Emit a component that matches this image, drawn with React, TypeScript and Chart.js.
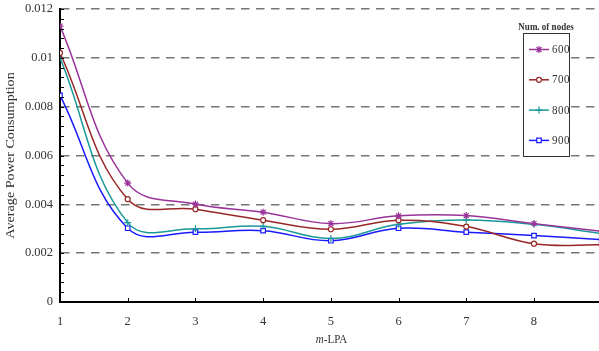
import React, { useEffect, useRef } from 'react';
import { Chart, registerables } from 'chart.js';

Chart.register(...registerables);

// ---- data ----
const xValues = [1, 2, 3, 4, 5, 6, 7, 8, 9];
const seriesLabels = ['600', '700', '800', '900'];
const s600 = [0.0113, 0.00487, 0.00401, 0.00368, 0.00321, 0.00353, 0.00354, 0.00321, 0.0029];
const s700 = [0.0102, 0.00421, 0.0038, 0.00335, 0.00298, 0.00335, 0.00309, 0.00239, 0.00234];
const s800 = [0.01, 0.00325, 0.003, 0.0031, 0.0026, 0.00318, 0.00336, 0.00318, 0.0028];
const s900 = [0.00846, 0.00302, 0.00286, 0.00292, 0.00251, 0.00302, 0.00286, 0.00272, 0.00255];
const xTicks = [1, 2, 3, 4, 5, 6, 7, 8];
const yTicks = [0, 0.002, 0.004, 0.006, 0.008, 0.01, 0.012];
const yTickLabels = ['0', '0.002', '0.004', '0.006', '0.008', '0.01', '0.012'];
const yMinorTicks = [0, 0.0004, 0.0008, 0.0012, 0.0016, 0.002, 0.0024, 0.0028, 0.0032, 0.0036, 0.004, 0.0044, 0.0048, 0.0052, 0.0056, 0.006, 0.0064, 0.0068, 0.0072, 0.0076, 0.008, 0.0084, 0.0088, 0.0092, 0.0096, 0.01, 0.0104, 0.0108, 0.0112, 0.0116, 0.012];
const legendTitle = 'Num. of nodes';
const yTitle = 'Average Power Consumption';
const xTitleItalic = 'm';
const xTitleRest = '-LPA';

const FONT = '"Liberation Serif", "Times New Roman", serif';

const seriesStyles = [
  { color: '#993399', point: 'star', radius: 3.5, fill: '#993399' },
  { color: '#992626', point: 'circle', radius: 2.5, fill: '#ffffff' },
  { color: '#1a9999', point: 'cross', radius: 3.5, fill: '#1a9999' },
  { color: '#1a1aff', point: 'rect', radius: 3.2, fill: '#ffffff' },
];

function drawMarker(ctx: CanvasRenderingContext2D, style: string, x: number, y: number, r: number, color: string, fill: string) {
  ctx.save();
  ctx.strokeStyle = color;
  ctx.fillStyle = fill;
  ctx.lineWidth = 1.2;
  ctx.beginPath();
  if (style === 'star') {
    const d = r * Math.SQRT1_2;
    ctx.moveTo(x, y - r); ctx.lineTo(x, y + r);
    ctx.moveTo(x - d, y - d); ctx.lineTo(x + d, y + d);
    ctx.moveTo(x - d, y + d); ctx.lineTo(x + d, y - d);
    ctx.stroke();
  } else if (style === 'cross') {
    ctx.moveTo(x, y - r); ctx.lineTo(x, y + r);
    ctx.moveTo(x - r, y); ctx.lineTo(x + r, y);
    ctx.stroke();
  } else if (style === 'circle') {
    ctx.arc(x, y, r, 0, Math.PI * 2);
    ctx.fill();
    ctx.stroke();
  } else if (style === 'rect') {
    const s = r * Math.SQRT1_2;
    ctx.rect(x - s, y - s, 2 * s, 2 * s);
    ctx.fill();
    ctx.stroke();
  }
  ctx.restore();
}

const decorPlugin = {
  id: 'decor',
  afterDraw(chart: any) {
    const { ctx, chartArea } = chart;
    const xs = chart.scales.x;
    const ys = chart.scales.y;
    ctx.save();
    // inward tick marks
    ctx.strokeStyle = '#000';
    ctx.lineWidth = 1;
    ctx.beginPath();
    yMinorTicks.forEach((v) => {
      const py = Math.round(ys.getPixelForValue(v)) + 0.5;
      ctx.moveTo(chartArea.left, py);
      ctx.lineTo(chartArea.left + 4, py);
    });
    xTicks.forEach((v) => {
      const px = Math.round(xs.getPixelForValue(v)) + 0.5;
      ctx.moveTo(px, chartArea.bottom);
      ctx.lineTo(px, chartArea.bottom - 4);
    });
    ctx.stroke();
    ctx.restore();

    // y title (slightly stretched along its length like the source)
    ctx.save();
    ctx.fillStyle = '#333';
    ctx.textAlign = 'center';
    ctx.textBaseline = 'middle';
    ctx.font = '12px ' + FONT;
    ctx.translate(11, (chartArea.top + chartArea.bottom) / 2);
    ctx.rotate(-Math.PI / 2);
    ctx.scale(1.18, 1);
    ctx.fillText(yTitle, 0, 0);
    ctx.restore();

    // x title with italic m
    ctx.save();
    const cx = (chartArea.left + chartArea.right) / 2 + 2;
    const ty = 340;
    ctx.fillStyle = '#333';
    ctx.textBaseline = 'middle';
    ctx.font = 'italic 11px ' + FONT;
    const w1 = ctx.measureText(xTitleItalic).width;
    ctx.font = '11px ' + FONT;
    const w2 = ctx.measureText(xTitleRest).width;
    const startX = cx - (w1 + w2) / 2;
    ctx.translate(0, ty);
    ctx.scale(1, 1.2);
    ctx.textAlign = 'left';
    ctx.font = 'italic 11px ' + FONT;
    ctx.fillText(xTitleItalic, startX, 0);
    ctx.font = '11px ' + FONT;
    ctx.fillText(xTitleRest, startX + w1, 0);
    ctx.restore();

    // legend
    ctx.save();
    const boxW = 46;
    const boxH = 123;
    const bx = chartArea.right - 76;
    const by = chartArea.top + 24;
    ctx.fillStyle = '#fff';
    ctx.fillRect(bx, by, boxW, boxH);
    ctx.strokeStyle = '#333';
    ctx.lineWidth = 1;
    ctx.strokeRect(Math.round(bx) + 0.5, Math.round(by) + 0.5, boxW, boxH);
    ctx.fillStyle = '#333';
    ctx.textAlign = 'center';
    ctx.textBaseline = 'middle';
    ctx.save();
    ctx.translate(bx + boxW / 2, by - 6);
    ctx.scale(1, 1.15);
    ctx.font = 'bold 9px ' + FONT;
    ctx.fillText(legendTitle, 0, 0);
    ctx.restore();
    chart.data.datasets.forEach((ds: any, i: number) => {
      const st = seriesStyles[i];
      const y = by + 16.5 + i * 30.3;
      ctx.strokeStyle = st.color;
      ctx.lineWidth = 1.5;
      ctx.beginPath();
      ctx.moveTo(bx + 6, y);
      ctx.lineTo(bx + 26, y);
      ctx.stroke();
      drawMarker(ctx, st.point, bx + 16, y, st.radius, st.color, st.fill);
      ctx.save();
      ctx.translate(bx + 29, y);
      ctx.scale(1, 1.2);
      ctx.fillStyle = '#333';
      ctx.textAlign = 'left';
      ctx.font = '11px ' + FONT;
      (ctx as any).letterSpacing = '0.5px';
      ctx.fillText(ds.label, 0, 0);
      ctx.restore();
    });
    ctx.restore();
  },
};

export default function App() {
  const canvasRef = useRef<HTMLCanvasElement | null>(null);

  useEffect(() => {
    if (!canvasRef.current) return;
    const all = [s600, s700, s800, s900];
    const datasets = all.map((arr, i) => ({
      label: seriesLabels[i],
      data: xValues.map((x, j) => ({ x, y: arr[j] })),
      borderColor: seriesStyles[i].color,
      backgroundColor: seriesStyles[i].fill,
      pointStyle: seriesStyles[i].point,
      pointRadius: seriesStyles[i].radius,
      pointBorderColor: seriesStyles[i].color,
      pointBackgroundColor: seriesStyles[i].fill,
      pointBorderWidth: 1.2,
      borderWidth: 1.5,
      tension: 0.4,
      fill: false,
    }));
    const chart = new Chart(canvasRef.current, {
      type: 'line',
      data: { datasets },
      options: {
        responsive: false,
        animation: false,
        layout: { autoPadding: false, padding: { top: 9, right: 0, left: 0, bottom: 0 } },
        plugins: { legend: { display: false }, tooltip: { enabled: false } },
        scales: {
          x: {
            type: 'linear',
            min: 1,
            max: 8.96,
            afterBuildTicks: (s: any) => {
              s.ticks = xTicks.map((v) => ({ value: v }));
            },
            afterFit: (s: any) => {
              s.height = 49;
              s.paddingLeft = 0;
              s.paddingRight = 0;
            },
            grid: { display: false, drawTicks: false },
            border: { display: true, color: '#000', width: 2 },
            ticks: {
              padding: 12,
              color: '#333',
              font: { family: FONT, size: 12.5 },
              callback: (v: any) => String(v),
            },
          },
          y: {
            type: 'linear',
            min: 0,
            max: 0.012,
            afterBuildTicks: (s: any) => {
              s.ticks = yTicks.map((v) => ({ value: v }));
            },
            afterFit: (s: any) => {
              s.width = 60;
              s.paddingTop = 0;
              s.paddingBottom = 0;
            },
            grid: { color: '#777', lineWidth: 1.5, drawTicks: false },
            border: { display: true, color: '#000', width: 2, dash: [8.5, 6.5] },
            ticks: {
              padding: 7,
              color: '#333',
              font: { family: FONT, size: 12.5 },
              callback: (_v: any, i: number) => yTickLabels[i],
            },
            title: { display: false },
          },
        },
      },
      plugins: [decorPlugin],
    } as any);
    return () => chart.destroy();
  }, []);

  return (
    <div style={{ position: 'absolute', left: 0, top: 0, width: 599, height: 351, background: '#fff' }}>
      <canvas ref={canvasRef} width={599} height={351} style={{ display: 'block' }} />
    </div>
  );
}
